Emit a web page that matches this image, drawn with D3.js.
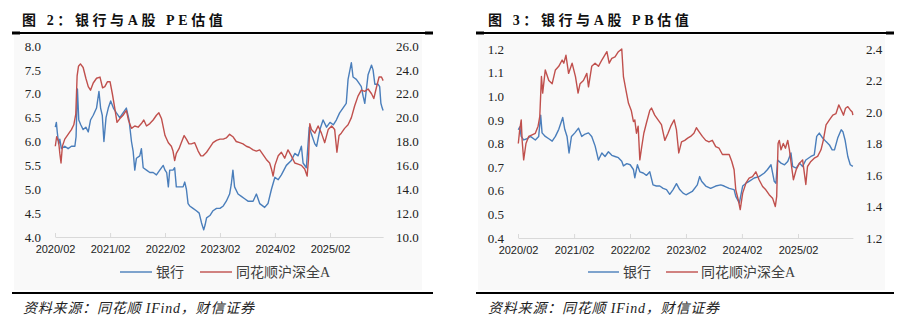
<!DOCTYPE html>
<html><head><meta charset="utf-8">
<script src="https://cdn.jsdelivr.net/npm/d3@7"></script>
<style>
body{margin:0;background:#fff;}
svg{display:block;}
</style></head><body>
<svg id="c" width="912" height="322"></svg>
<script>
// ---------- data ----------
const xTickLabels = ["2020/02","2021/02","2022/02","2023/02","2024/02","2025/02"];
const seriesNames = ["银行","同花顺沪深全A"];
const peTitle = "图 2：银行与A股 PE估值";
const pbTitle = "图 3：银行与A股 PB估值";
const sourceText = "资料来源：同花顺 IFind，财信证券";

const peLeftTicks = [4.0,4.5,5.0,5.5,6.0,6.5,7.0,7.5,8.0];
const peRightTicks = [10,12,14,16,18,20,22,24,26];
const pbLeftTicks = [0.4,0.5,0.6,0.7,0.8,0.9,1.0,1.1,1.2];
const pbRightTicks = [1.2,1.4,1.6,1.8,2.0,2.2,2.4];

const peBankDates = ["2020-02-03","2020-02-10","2020-02-16","2020-02-25","2020-03-04","2020-03-14","2020-04-06","2020-04-28","2020-05-20","2020-06-12","2020-06-20","2020-06-29","2020-07-08","2020-07-21","2020-08-06","2020-08-24","2020-09-09","2020-09-24","2020-10-12","2020-11-03","2020-11-19","2020-11-30","2020-12-11","2020-12-22","2021-01-05","2021-01-20","2021-02-05","2021-02-23","2021-03-15","2021-04-06","2021-04-28","2021-05-20","2021-06-07","2021-06-23","2021-07-04","2021-07-15","2021-07-26","2021-08-17","2021-08-28","2021-09-09","2021-10-01","2021-10-23","2021-11-14","2021-12-06","2021-12-28","2022-01-20","2022-02-01","2022-02-12","2022-02-23","2022-03-04","2022-03-26","2022-04-06","2022-04-17","2022-05-09","2022-06-01","2022-06-12","2022-06-23","2022-07-04","2022-07-15","2022-08-06","2022-08-28","2022-09-16","2022-10-01","2022-10-16","2022-10-25","2022-11-04","2022-11-26","2022-12-17","2023-01-09","2023-02-01","2023-02-23","2023-03-15","2023-04-06","2023-04-17","2023-04-28","2023-05-09","2023-06-01","2023-06-23","2023-07-15","2023-08-06","2023-09-09","2023-10-01","2023-10-23","2023-11-25","2023-12-17","2024-01-09","2024-02-01","2024-02-23","2024-03-15","2024-04-17","2024-05-20","2024-06-12","2024-07-04","2024-07-26","2024-08-06","2024-08-28","2024-09-16","2024-10-01","2024-10-23","2024-11-04","2024-11-26","2024-12-17","2025-01-09","2025-02-01","2025-02-23","2025-03-15","2025-04-06","2025-04-28","2025-05-20","2025-06-01","2025-06-23","2025-07-04","2025-07-26","2025-08-17","2025-08-28","2025-09-09","2025-09-20","2025-10-12","2025-11-04","2025-11-14","2025-11-26","2025-12-17","2025-12-28","2026-01-05","2026-01-14","2026-01-20"];
const peBankValues = [6.30,6.40,6.20,5.95,6.05,5.85,5.90,5.85,5.90,5.90,6.10,7.10,6.45,6.35,6.25,6.30,6.20,6.45,6.55,6.70,7.05,6.70,6.55,6.00,6.50,6.70,6.85,6.70,6.60,6.50,6.60,6.70,6.45,6.00,5.80,5.40,5.65,5.70,5.85,5.45,5.40,5.35,5.35,5.30,5.40,5.50,5.40,5.35,5.05,5.40,5.40,5.45,5.05,5.05,5.05,5.15,5.00,4.70,4.65,4.60,4.55,4.50,4.30,4.15,4.25,4.40,4.45,4.55,4.60,4.60,4.65,4.75,4.90,5.10,5.40,5.05,4.90,4.85,4.80,4.75,4.75,4.90,4.70,4.62,4.70,5.00,5.25,5.20,5.30,5.50,5.60,5.75,5.70,5.90,5.55,5.45,6.30,6.15,5.95,5.90,6.25,6.45,6.30,6.40,6.35,6.45,6.60,6.70,6.80,7.30,7.65,7.35,7.30,7.20,7.15,6.95,6.80,7.40,7.60,7.50,7.20,7.20,7.15,6.80,6.70,6.65];

const peMarketDates = ["2020-02-03","2020-02-12","2020-02-25","2020-03-04","2020-03-12","2020-03-21","2020-04-06","2020-04-28","2020-05-20","2020-06-05","2020-06-18","2020-06-27","2020-07-06","2020-07-19","2020-08-06","2020-08-24","2020-09-09","2020-09-24","2020-10-12","2020-11-03","2020-11-26","2020-12-13","2020-12-28","2021-01-14","2021-02-01","2021-02-16","2021-03-04","2021-03-19","2021-04-06","2021-04-28","2021-05-20","2021-06-03","2021-06-23","2021-07-15","2021-08-06","2021-08-28","2021-09-13","2021-10-01","2021-10-23","2021-11-14","2021-12-06","2021-12-22","2022-01-09","2022-02-01","2022-02-23","2022-03-15","2022-03-26","2022-04-06","2022-04-17","2022-05-05","2022-05-20","2022-06-08","2022-06-23","2022-07-10","2022-07-26","2022-08-17","2022-09-09","2022-09-27","2022-10-12","2022-11-04","2022-11-26","2022-12-17","2023-01-09","2023-02-01","2023-02-23","2023-03-15","2023-04-06","2023-04-28","2023-05-20","2023-06-12","2023-07-04","2023-07-26","2023-08-17","2023-09-09","2023-10-01","2023-10-23","2023-11-14","2023-12-06","2023-12-28","2024-01-09","2024-01-20","2024-02-01","2024-02-23","2024-03-15","2024-04-06","2024-04-28","2024-05-20","2024-06-12","2024-07-04","2024-07-26","2024-08-17","2024-09-02","2024-09-11","2024-09-20","2024-10-01","2024-10-23","2024-11-14","2024-12-06","2024-12-28","2025-01-20","2025-02-12","2025-03-04","2025-03-19","2025-04-02","2025-04-17","2025-05-09","2025-06-01","2025-06-23","2025-07-15","2025-08-06","2025-08-28","2025-09-20","2025-10-12","2025-11-04","2025-11-19","2025-12-06","2025-12-24","2026-01-09","2026-01-20"];
const peMarketValues = [17.6,18.4,18.0,17.0,16.2,17.6,18.2,18.6,19.0,19.4,20.3,23.5,24.3,24.5,24.2,23.3,22.6,22.3,22.9,23.3,23.4,22.5,22.6,23.0,23.0,22.0,20.8,19.6,19.9,20.2,20.6,19.8,19.1,19.3,19.2,19.5,19.8,19.3,19.5,19.8,20.2,20.4,19.9,18.5,17.9,17.6,17.2,16.4,17.0,17.4,17.9,18.5,18.2,17.8,17.8,17.9,17.2,16.8,16.8,17.1,17.5,17.9,18.1,18.2,18.2,18.3,18.6,18.4,18.0,17.9,17.8,17.6,17.5,17.3,17.2,17.3,16.9,16.5,16.2,15.7,15.1,16.0,16.8,17.1,16.6,17.3,16.8,16.2,16.1,16.0,15.7,15.1,16.5,19.5,19.0,18.7,19.3,18.7,17.9,19.0,19.3,19.0,17.1,18.5,18.7,19.1,19.4,20.0,21.0,21.8,22.3,22.2,22.4,22.0,21.6,22.5,23.4,23.4,23.1];

const pbBankDates = ["2020-02-03","2020-02-12","2020-02-22","2020-03-09","2020-03-31","2020-04-22","2020-05-24","2020-06-15","2020-06-28","2020-07-07","2020-07-28","2020-08-20","2020-09-11","2020-10-02","2020-10-24","2020-11-19","2020-12-02","2020-12-17","2020-12-30","2021-01-15","2021-02-06","2021-03-02","2021-03-23","2021-04-14","2021-05-06","2021-05-27","2021-06-18","2021-07-10","2021-08-01","2021-08-22","2021-09-13","2021-10-05","2021-10-26","2021-11-17","2021-12-09","2021-12-20","2022-01-11","2022-02-02","2022-02-23","2022-03-04","2022-03-21","2022-04-06","2022-04-28","2022-05-19","2022-06-10","2022-07-01","2022-07-23","2022-08-14","2022-09-05","2022-09-27","2022-10-18","2022-11-09","2022-12-01","2022-12-22","2023-01-13","2023-02-01","2023-03-14","2023-04-16","2023-05-01","2023-05-14","2023-06-10","2023-07-12","2023-08-14","2023-09-16","2023-10-08","2023-11-10","2023-12-12","2023-12-23","2024-01-15","2024-02-06","2024-02-28","2024-03-19","2024-04-21","2024-05-23","2024-06-26","2024-07-17","2024-08-09","2024-08-30","2024-09-10","2024-09-21","2024-10-13","2024-11-05","2024-11-26","2024-12-17","2024-12-28","2025-01-20","2025-02-11","2025-03-03","2025-03-24","2025-04-26","2025-05-18","2025-06-03","2025-06-20","2025-07-12","2025-08-03","2025-08-25","2025-09-12","2025-09-27","2025-10-18","2025-11-10","2025-11-21","2025-12-05","2025-12-23","2026-01-08","2026-01-25"];
const pbBankValues = [0.858,0.87,0.83,0.815,0.82,0.83,0.815,0.83,0.92,0.845,0.83,0.82,0.81,0.83,0.86,0.91,0.86,0.83,0.76,0.83,0.845,0.865,0.83,0.84,0.845,0.83,0.79,0.73,0.76,0.745,0.765,0.75,0.745,0.74,0.725,0.705,0.715,0.71,0.69,0.655,0.71,0.68,0.675,0.665,0.68,0.625,0.62,0.62,0.61,0.605,0.585,0.605,0.63,0.605,0.59,0.583,0.597,0.625,0.66,0.64,0.62,0.61,0.62,0.625,0.62,0.61,0.605,0.576,0.548,0.62,0.632,0.64,0.654,0.66,0.675,0.69,0.71,0.64,0.632,0.73,0.717,0.71,0.724,0.76,0.703,0.696,0.717,0.703,0.73,0.745,0.752,0.83,0.844,0.823,0.808,0.794,0.773,0.773,0.823,0.858,0.85,0.815,0.745,0.71,0.703];

const pbMarketDates = ["2020-02-03","2020-02-12","2020-02-22","2020-02-28","2020-03-09","2020-03-24","2020-04-11","2020-05-03","2020-05-24","2020-06-11","2020-06-22","2020-07-03","2020-07-11","2020-07-28","2020-08-20","2020-09-11","2020-10-02","2020-10-24","2020-11-15","2020-11-26","2020-12-10","2020-12-27","2021-01-19","2021-02-10","2021-02-27","2021-03-12","2021-04-03","2021-04-25","2021-05-06","2021-05-27","2021-06-18","2021-07-10","2021-08-01","2021-09-03","2021-09-18","2021-10-05","2021-10-26","2021-11-17","2021-12-09","2021-12-20","2022-01-05","2022-01-22","2022-02-09","2022-02-23","2022-03-04","2022-03-15","2022-03-26","2022-04-06","2022-04-17","2022-05-02","2022-05-19","2022-06-10","2022-06-21","2022-07-12","2022-08-03","2022-08-25","2022-09-16","2022-10-07","2022-10-25","2022-11-16","2022-12-01","2022-12-16","2023-01-03","2023-01-24","2023-02-12","2023-03-03","2023-03-25","2023-04-10","2023-04-27","2023-05-19","2023-06-10","2023-07-01","2023-07-23","2023-08-14","2023-09-05","2023-09-27","2023-10-19","2023-11-10","2023-11-27","2023-12-12","2023-12-23","2024-01-08","2024-01-21","2024-02-06","2024-02-28","2024-03-19","2024-04-10","2024-05-02","2024-05-23","2024-06-15","2024-07-06","2024-07-28","2024-08-19","2024-09-06","2024-09-15","2024-09-24","2024-10-02","2024-10-13","2024-10-28","2024-11-11","2024-11-26","2024-12-07","2024-12-24","2025-01-02","2025-01-20","2025-02-11","2025-03-03","2025-03-24","2025-04-04","2025-04-26","2025-05-18","2025-06-09","2025-07-01","2025-07-16","2025-08-03","2025-08-25","2025-09-16","2025-10-07","2025-10-25","2025-11-10","2025-11-25","2025-12-08","2025-12-23","2026-01-08","2026-01-21","2026-01-25"];
const pbMarketValues = [1.80,1.886,1.95,1.82,1.696,1.80,1.845,1.855,1.865,1.91,1.97,2.225,2.12,2.267,2.20,2.18,2.267,2.29,2.33,2.31,2.36,2.245,2.31,2.225,2.12,2.18,2.20,2.245,2.16,2.29,2.31,2.29,2.33,2.383,2.31,2.34,2.35,2.383,2.40,2.225,2.14,2.055,2.01,1.94,1.95,1.865,1.91,1.696,1.77,1.865,1.93,2.01,2.025,1.98,1.95,1.92,1.82,1.865,1.91,1.95,1.886,1.74,1.81,1.82,1.834,1.845,1.865,1.90,1.876,1.845,1.82,1.81,1.82,1.78,1.77,1.73,1.73,1.73,1.686,1.633,1.506,1.443,1.38,1.485,1.55,1.58,1.59,1.62,1.57,1.527,1.506,1.475,1.453,1.40,1.464,1.80,1.82,1.76,1.80,1.77,1.82,1.76,1.633,1.57,1.633,1.675,1.696,1.54,1.654,1.686,1.707,1.718,1.76,1.82,1.918,1.95,1.98,1.99,2.045,2.013,1.98,2.024,2.034,2.013,2.00,1.98];

// ---------- drawing ----------
const svg = d3.select("#c");
const parse = d3.timeParse("%Y-%m-%d");
const parseTick = d3.timeParse("%Y/%m");
const BLUE = "#4a7ebb", RED = "#c0504d";
const CJK = "'Liberation Serif','Noto Sans CJK SC',serif";

function zip(dates, values){ return dates.map((d,i)=>({date:parse(d), v:values[i]})); }

function drawPanel(c){
  const g = svg.append("g");
  // faint chart background
  g.append("rect").attr("x", c.bgX0).attr("y", 35).attr("width", c.bgX1 - c.bgX0).attr("height", 255).attr("fill", "#f9f9f9");
  // title
  g.append("text").attr("x", c.titleX).attr("y", 24.5).text(c.title)
    .attr("font-family", CJK).attr("font-weight", "bold").attr("font-size", 14).attr("letter-spacing", 3.6).attr("fill", "#111");
  // top rule
  g.append("line").attr("x1", c.ruleX0).attr("x2", c.ruleX1).attr("y1", 33).attr("y2", 33).attr("stroke", "#000").attr("stroke-width", 2);
  g.append("rect").attr("x", c.ruleX0).attr("y", 31.5).attr("width", 8).attr("height", 3).attr("fill", "#000");
  g.append("rect").attr("x", c.ruleX1 - 8).attr("y", 31.5).attr("width", 8).attr("height", 3).attr("fill", "#000");

  const t0 = parse("2020-02-01"), t5 = parse("2025-02-01");
  const x = d3.scaleTime().domain([t0, t5]).range([c.x0, c.x5]);
  const yL = d3.scaleLinear().domain([c.leftTicks[0], c.leftTicks[c.leftTicks.length-1]]).range([c.yBottom, c.yTop]);
  const yR = d3.scaleLinear().domain([c.rightTicks[0], c.rightTicks[c.rightTicks.length-1]]).range([c.yBottom, c.yTop]);

  const bank = zip(c.bankDates, c.bankValues);
  const market = zip(c.marketDates, c.marketValues);
  const lastDate = d3.max(bank.concat(market), d => d.date);
  const xa = x.copy().domain([t0, lastDate]).range([x(t0), x(lastDate)]);

  // x axis
  const ax = g.append("g").attr("transform", `translate(0,${c.yBottom})`)
    .call(d3.axisBottom(xa).tickValues(xTickLabels.map(s => parseTick(s)))
      .tickFormat((d,i) => xTickLabels[i]).tickSize(-4).tickSizeOuter(0).tickPadding(8));
  ax.select(".domain").attr("stroke", "#d9d9d9");
  ax.selectAll(".tick line").attr("stroke", "#d9d9d9");
  ax.selectAll("text").attr("font-family", "'Liberation Sans',sans-serif").attr("font-size", 11).attr("fill", "#222");

  // y axes
  const fmt = d3.format(".1f");
  const al = g.append("g").attr("transform", `translate(${c.leftLabelEnd + 3},0)`)
    .call(d3.axisLeft(yL).tickValues(c.leftTicks).tickFormat(fmt).tickSize(0).tickPadding(3));
  const ar = g.append("g").attr("transform", `translate(${c.rightLabelStart - 3},0)`)
    .call(d3.axisRight(yR).tickValues(c.rightTicks).tickFormat(fmt).tickSize(0).tickPadding(3));
  [al, ar].forEach(a => {
    a.select(".domain").remove();
    a.selectAll("text").attr("font-family", "'Liberation Serif',serif").attr("font-size", 13).attr("fill", "#222");
  });

  // lines
  g.append("path").datum(bank).attr("fill", "none").attr("stroke", BLUE).attr("stroke-width", 1.4)
    .attr("stroke-linejoin", "round")
    .attr("d", d3.line().x(d => x(d.date)).y(d => yL(d.v)));
  g.append("path").datum(market).attr("fill", "none").attr("stroke", RED).attr("stroke-width", 1.4)
    .attr("stroke-linejoin", "round")
    .attr("d", d3.line().x(d => x(d.date)).y(d => yR(d.v)));

  // legend
  const ly = 272;
  [[BLUE, c.leg[0], c.leg[1], c.leg[2]], [RED, c.leg[3], c.leg[4], c.leg[5]]].forEach((L, i) => {
    g.append("line").attr("x1", L[1]).attr("x2", L[2]).attr("y1", ly).attr("y2", ly).attr("stroke", L[0]).attr("stroke-width", 1.4);
    g.append("text").attr("x", L[3]).attr("y", ly + 5).text(seriesNames[i])
      .attr("font-family", CJK).attr("font-size", 14).attr("fill", "#404040");
  });

  // bottom rule & source
  g.append("line").attr("x1", c.ruleX0).attr("x2", c.ruleX1).attr("y1", 293).attr("y2", 293).attr("stroke", "#000").attr("stroke-width", 2);
  g.append("text").attr("x", c.srcX).attr("y", 312.5).text(sourceText)
    .attr("font-family", CJK).attr("font-style", "italic").attr("font-size", 14).attr("letter-spacing", 0.8).attr("fill", "#222");
}

drawPanel({
  title: peTitle, titleX: 22, ruleX0: 12, ruleX1: 433, bgX0: 14, bgX1: 422,
  x0: 55, x5: 330, yTop: 46, yBottom: 237, leftLabelEnd: 41, rightLabelStart: 396,
  leftTicks: peLeftTicks, rightTicks: peRightTicks,
  bankDates: peBankDates, bankValues: peBankValues, marketDates: peMarketDates, marketValues: peMarketValues,
  leg: [120, 152, 156, 200, 232, 236], srcX: 23
});
drawPanel({
  title: pbTitle, titleX: 488, ruleX0: 476, ruleX1: 894, bgX0: 478, bgX1: 885,
  x0: 518, x5: 798, yTop: 49, yBottom: 238, leftLabelEnd: 504, rightLabelStart: 866,
  leftTicks: pbLeftTicks, rightTicks: pbRightTicks,
  bankDates: pbBankDates, bankValues: pbBankValues, marketDates: pbMarketDates, marketValues: pbMarketValues,
  leg: [588, 619, 623, 666, 698, 701], srcX: 488
});
</script>
</body></html>
